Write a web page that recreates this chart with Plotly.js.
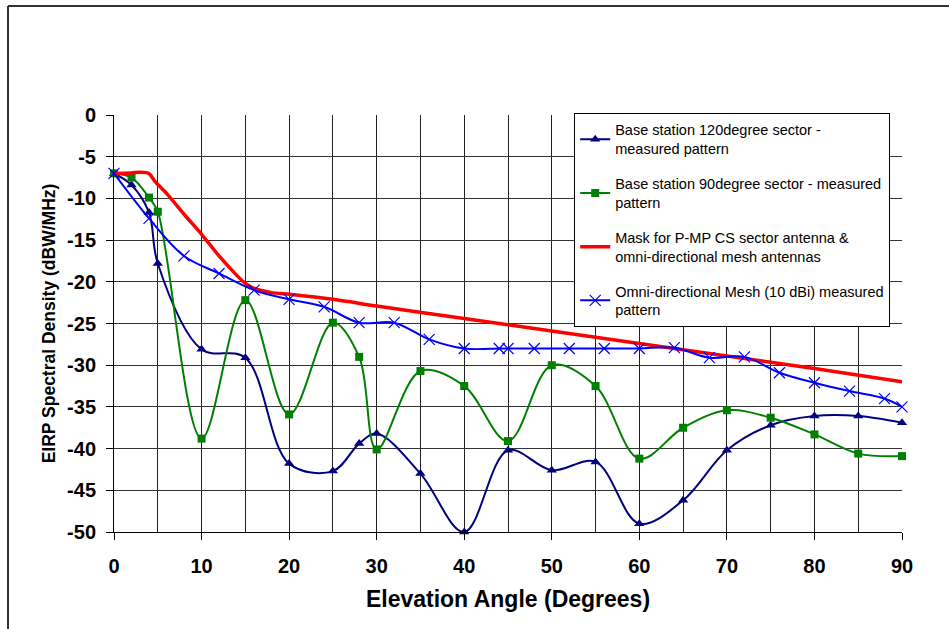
<!DOCTYPE html>
<html>
<head>
<meta charset="utf-8">
<script src="https://cdn.plot.ly/plotly-3.0.1.min.js"></script>
<style>
html,body{margin:0;padding:0;background:#fff;}
#chart{width:949px;height:629px;}
</style>
</head>
<body>
<div id="chart"></div>
<script>
// Base station 120 degree sector - measured pattern
var angle120 = [0,2,4,5,10,15,20,25,28,30,35,40,45,50,55,60,65,70,75,80,85,90];
var eirp120  = [-7,-8.4,-11.7,-17.8,-28.1,-29.1,-41.8,-42.7,-39.4,-38.2,-43,-50,-40.2,-42.6,-41.6,-49,-46.2,-40.2,-37.2,-36.1,-36.1,-36.9];
// Base station 90 degree sector - measured pattern
var angle90 = [0,2,4,5,10,15,20,25,28,30,35,40,45,50,55,60,65,70,75,80,85,90];
var eirp90  = [-7,-7.5,-9.9,-11.6,-38.8,-22.2,-35.9,-24.9,-29,-40.1,-30.7,-32.5,-39.1,-30,-32.5,-41.2,-37.5,-35.4,-36.3,-38.3,-40.6,-40.9];
// Mask for P-MP CS sector antenna & omni-directional mesh antennas
var angleMask = [0,2,3,4,4.7,6,8,10,12,14,15,16,18,20,25,30,40,50,60,70,80,90];
var eirpMask  = [-7,-6.95,-6.85,-7,-8,-9.4,-11.9,-14.3,-16.9,-19.2,-20.2,-20.8,-21.3,-21.5,-22.1,-22.9,-24.4,-25.9,-27.4,-28.9,-30.4,-32];
// Omni-directional Mesh (10 dBi) measured pattern
var angleOmni = [0,4,8,12,16,20,24,28,32,36,40,44,45,48,52,56,60,64,68,72,76,80,84,88,90];
var eirpOmni  = [-7,-12.4,-16.9,-19,-21,-22.1,-23,-24.9,-24.9,-26.9,-28,-28,-28,-28,-28,-28,-28,-27.9,-29.1,-29,-30.9,-32.1,-33.1,-34,-35];

var seriesNames = [
  'Base station 120degree sector -<br>measured pattern',
  'Base station 90degree sector - measured<br>pattern',
  'Mask for P-MP CS sector antenna &<br>omni-directional mesh antennas',
  'Omni-directional Mesh (10 dBi) measured<br>pattern'
];
var yTickVals = [0,-5,-10,-15,-20,-25,-30,-35,-40,-45,-50];
var yTickText = ['0','-5','-10','-15','-20','-25','-30','-35','-40','-45','-50'];
var xTickVals = [0,10,20,30,40,50,60,70,80,90];
var xTickText = ['0','10','20','30','40','50','60','70','80','90'];
var xTitle = 'Elevation Angle (Degrees)';
var yTitle = 'EIRP Spectral Density (dBW/MHz)';

var FONT = 'Liberation Sans, Arial, sans-serif';

var traces = [
  {x: angle120, y: eirp120, name: seriesNames[0], legendgroup:'a', type:'scatter', mode:'lines+markers',
   line:{color:'#000080', width:2, shape:'spline', smoothing:1},
   marker:{symbol:'triangle-up', size:9, color:'#000080'}, cliponaxis:false},
  {x: angle90, y: eirp90, name: seriesNames[1], legendgroup:'b', type:'scatter', mode:'lines+markers',
   line:{color:'#008000', width:2, shape:'spline', smoothing:1},
   marker:{symbol:'square', size:8, color:'#008000'}, cliponaxis:false},
  {x: angleMask, y: eirpMask, name: seriesNames[2], legendgroup:'c', type:'scatter', mode:'lines',
   line:{color:'#FF0000', width:3.5, shape:'spline', smoothing:0.6}, cliponaxis:false},
  {x: angleOmni, y: eirpOmni, name: seriesNames[3], legendgroup:'d', type:'scatter', mode:'lines+markers',
   line:{color:'#0000FF', width:2, shape:'spline', smoothing:1},
   marker:{symbol:'x-thin-open', size:11, color:'#0000FF', line:{color:'#0000FF', width:1.2}}, cliponaxis:false}
];

var layout = {
  width: 949, height: 629,
  margin: {l:114, r:47, t:115, b:97, pad:0},
  paper_bgcolor:'#fff', plot_bgcolor:'#fff',
  font: {family: FONT, color:'#000'},
  showlegend: true,
  legend: {
    x: 0.584, y: 1.005, xanchor:'left', yanchor:'top',
    bgcolor:'#fff', bordercolor:'#000', borderwidth:1,
    font:{family: FONT, size:14.5, color:'#000'},
    tracegroupgap: 13, traceorder:'grouped', itemwidth:30
  },
  xaxis: {
    range:[0,90], tickmode:'array', tickvals:xTickVals, ticktext:xTickText,
    ticks:'outside', ticklen:7, tickcolor:'#000', tickwidth:1,
    showline:true, linecolor:'#000', linewidth:1, mirror:false,
    showgrid:true, gridcolor:'#222', gridwidth:1,
    minor:{dtick:5, tick0:0, showgrid:true, gridcolor:'#222', gridwidth:1, ticks:''},
    zeroline:false,
    tickfont:{family: FONT, size:20, weight:'bold', color:'#000'},
    ticklabelstandoff: 9,
    title:{text:xTitle, font:{family: FONT, size:23, weight:'bold', color:'#000'}, standoff:14},
    automargin:false
  },
  yaxis: {
    range:[-50,0], tickmode:'array', tickvals:yTickVals, ticktext:yTickText,
    ticks:'outside', ticklen:7, tickcolor:'#000', tickwidth:1,
    showline:true, linecolor:'#000', linewidth:1,
    showgrid:true, gridcolor:'#333', gridwidth:1,
    zeroline:false,
    tickfont:{family: FONT, size:20, weight:'bold', color:'#000'},
    ticklabelstandoff: 6,
    title:{text:yTitle, font:{family: FONT, size:17.5, weight:'bold', color:'#000'}, standoff:6},
    automargin:false
  },
  shapes: [
    {type:'line', xref:'paper', yref:'paper', x0:-0.1345, x1:-0.1345, y0:-0.25, y1:1.2614,
     line:{color:'#333', width:2}},
    {type:'line', xref:'paper', yref:'paper', x0:-0.1345, x1:1.07, y0:1.2614, y1:1.2614,
     line:{color:'#333', width:2}}
  ]
};

Plotly.newPlot('chart', traces, layout, {displayModeBar:false, staticPlot:true});
</script>
</body>
</html>
